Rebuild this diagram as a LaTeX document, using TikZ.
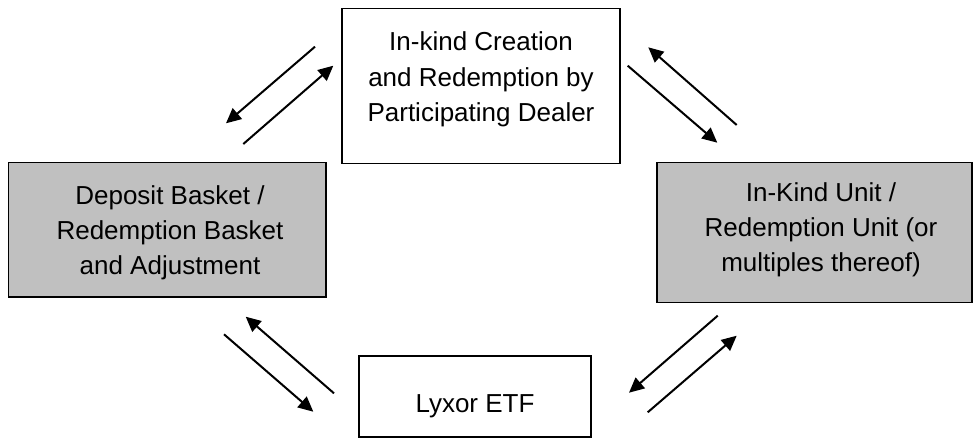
\documentclass[tikz,border=0pt]{standalone}
\usepackage{fontspec}
\setmainfont{Liberation Sans}
\usetikzlibrary{arrows.meta}
\definecolor{boxgray}{RGB}{192,192,192}
\tikzset{
  boxshape/.style={draw=black, line width=1.9pt, inner sep=0pt},
  grayshape/.style={boxshape, fill=boxgray},
  boxtext/.style={align=center, inner sep=0pt, text=black,
    font=\fontsize{26}{35.3}\selectfont},
  flow/.style={line width=2pt, -{Triangle[length=15pt,width=14pt]}}
}
\begin{document}
\begin{tikzpicture}[x=1pt,y=-1pt]
\useasboundingbox (0,0) rectangle (973,438);
% boxes
\node[boxshape, minimum width=278pt, minimum height=155pt] (topbox) at (481,86) {};
\node[grayshape, minimum width=317.5pt, minimum height=134.5pt] (leftbox) at (167.25,229.75) {};
\node[grayshape, minimum width=315pt, minimum height=140pt] (rightbox) at (814.5,232.5) {};
\node[boxshape, minimum width=232pt, minimum height=81pt] (botbox) at (475,396.5) {};
% texts
\node[boxtext] (toptext) at (481,79.3) {In-kind Creation\\and Redemption by\\Participating Dealer};
\node[boxtext] (lefttext) at (170,232.7) {Deposit Basket /\\Redemption Basket\\and Adjustment};
\node[boxtext] (righttext) at (821,229.7) {In-Kind Unit /\\Redemption Unit (or\\multiples thereof)};
\node[boxtext, anchor=base] (bottext) at (475,412) {Lyxor ETF};
% arrow end points
\coordinate (a1) at (315,46.7);   \coordinate (a2) at (226,123.3);
\coordinate (b1) at (243.3,144);  \coordinate (b2) at (333.3,65.7);
\coordinate (c1) at (736.7,125);  \coordinate (c2) at (648.3,47.3);
\coordinate (d1) at (627.7,65.7); \coordinate (d2) at (717.3,142.7);
\coordinate (e1) at (334,393.3);  \coordinate (e2) at (245.7,316.7);
\coordinate (f1) at (224,334.3);  \coordinate (f2) at (313.3,411.7);
\coordinate (g1) at (717.7,315.7);\coordinate (g2) at (629,392.7);
\coordinate (h1) at (647.7,412.3);\coordinate (h2) at (736.7,335.7);
% arrows
\draw[flow] (a1) -- (a2);
\draw[flow] (b1) -- (b2);
\draw[flow] (c1) -- (c2);
\draw[flow] (d1) -- (d2);
\draw[flow] (e1) -- (e2);
\draw[flow] (f1) -- (f2);
\draw[flow] (g1) -- (g2);
\draw[flow] (h1) -- (h2);
\end{tikzpicture}
\end{document}
